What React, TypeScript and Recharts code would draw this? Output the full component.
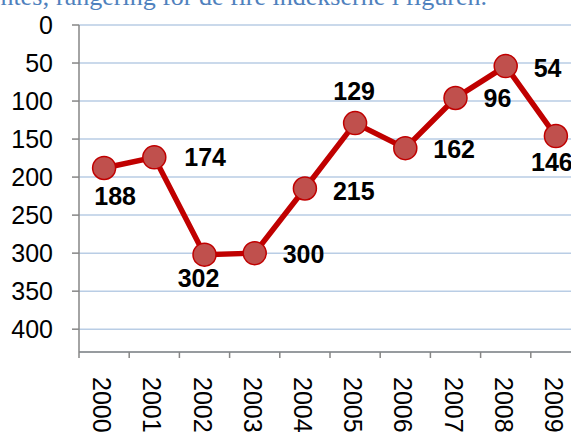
import { CartesianGrid, LabelList, Line, LineChart, XAxis, YAxis } from "recharts";

const years = ["2000", "2001", "2002", "2003", "2004", "2005", "2006", "2007", "2008", "2009"];
const ranking = [188, 174, 302, 300, 215, 129, 162, 96, 54, 146];
const yTicks = [0, 50, 100, 150, 200, 250, 300, 350, 400];

const data = years.map((year, i) => ({ year, rank: ranking[i] }));

// where each value label sits relative to its point: [dx, dy, anchor]
const labelPlace: Array<[number, number, "start" | "middle"]> = [
  [11, 28, "middle"],
  [30, 0, "start"],
  [-6, 23, "middle"],
  [28, 1, "start"],
  [28, 2, "start"],
  [-1, -32, "middle"],
  [28, 1, "start"],
  [28, 0, "start"],
  [28, 2, "start"],
  [-4, 26, "middle"],
];

const HALF_BAND = 25.1;
const AXIS = "#868686";
const FONT = "'Liberation Sans', Arial, sans-serif";

function YearTick({ x, y, payload, index }: any) {
  return (
    <g>
      <line x1={x - HALF_BAND} x2={x - HALF_BAND} y1={y} y2={y + 6} stroke={AXIS} strokeWidth={1.5} />
      {index === years.length - 1 && (
        <line x1={x + HALF_BAND} x2={x + HALF_BAND} y1={y} y2={y + 6} stroke={AXIS} strokeWidth={1.5} />
      )}
      <text
        transform={`translate(${x - 2},${y + 25}) rotate(90)`}
        textAnchor="start"
        dominantBaseline="central"
        fontSize={25}
        fontFamily={FONT}
        fill="#000"
      >
        {payload.value}
      </text>
    </g>
  );
}

function RankLabel({ x, y, value, index }: any) {
  const [dx, dy, anchor] = labelPlace[index] ?? [0, -20, "middle"];
  return (
    <text x={x + dx} y={y + dy + 9} textAnchor={anchor} fontSize={25} fontWeight="bold" fontFamily={FONT} fill="#000">
      {value}
    </text>
  );
}

export default function App() {
  return (
    <div style={{ position: "absolute", left: 0, top: 0, width: 571, height: 433, overflow: "hidden", background: "#fff" }}>
      <svg width={571} height={20} style={{ position: "absolute", left: 0, top: 0 }}>
        <text x={487} y={5} textAnchor="end" fontSize={26} fontFamily="'Liberation Serif', 'Times New Roman', serif" fill="#4f81bd">
          entes; rangering for de fire indekserne i figuren.
        </text>
      </svg>
      <LineChart width={600} height={433} data={data} margin={{ top: 25, right: 19, bottom: 0, left: 0 }}>
        <CartesianGrid vertical={false} stroke="#b9cde5" strokeWidth={1.5} />
        <XAxis
          dataKey="year"
          height={81}
          padding={{ left: HALF_BAND, right: HALF_BAND }}
          interval={0}
          tickLine={false}
          tickSize={0}
          tickMargin={0}
          axisLine={{ stroke: AXIS, strokeWidth: 1.5 }}
          tick={<YearTick />}
        />
        <YAxis
          width={79}
          reversed
          domain={[0, 430]}
          ticks={yTicks}
          interval={0}
          allowDataOverflow
          tickSize={7}
          tickMargin={19}
          tickLine={{ stroke: AXIS, strokeWidth: 1.5 }}
          axisLine={{ stroke: AXIS, strokeWidth: 1.5 }}
          tick={{ fontSize: 25, fill: "#000", fontFamily: FONT }}
        />
        <Line
          dataKey="rank"
          stroke="#c00000"
          strokeWidth={5.5}
          dot={{ r: 11.5, fill: "#c0504d", stroke: "#c00000", strokeWidth: 1.5 }}
          activeDot={false}
          isAnimationActive={false}
        >
          <LabelList dataKey="rank" content={<RankLabel />} />
        </Line>
      </LineChart>
    </div>
  );
}
